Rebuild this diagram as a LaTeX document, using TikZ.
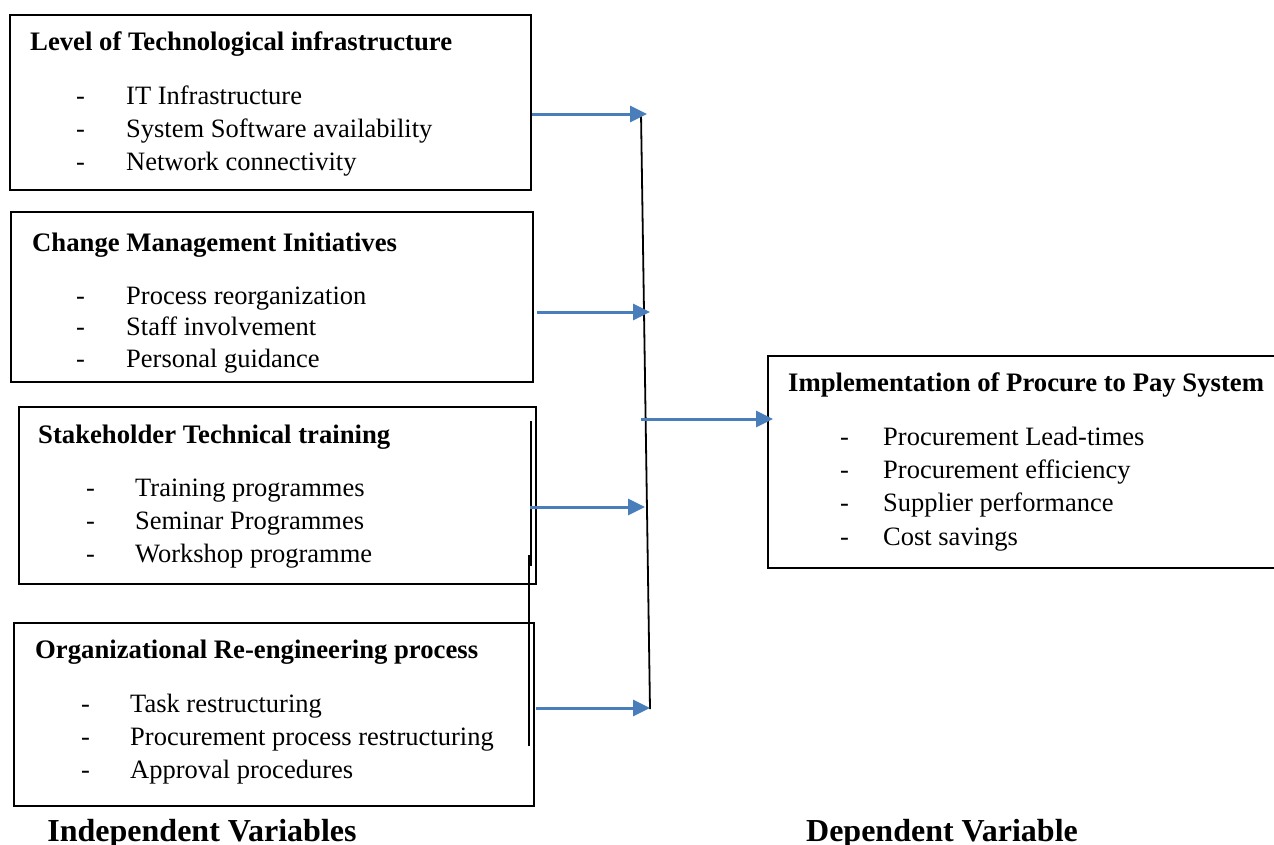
\documentclass[tikz,border=0pt]{standalone}
\usepackage{fontspec}
\setmainfont{Liberation Serif}
\usetikzlibrary{arrows.meta}
\definecolor{arrowblue}{RGB}{74,126,187}
\tikzset{
  box/.style={draw=black, line width=1.8pt, anchor=north west, inner sep=0pt},
  txt/.style={anchor=base west, inner sep=0pt, font=\fontsize{26.5}{33}\selectfont},
  ttl/.style={txt, font=\fontsize{26.7}{33}\selectfont\bfseries},
  lbl/.style={anchor=base, inner sep=0pt, font=\fontsize{32}{38}\selectfont\bfseries},
  arr/.style={draw=arrowblue, line width=3pt, -{Triangle[length=17pt,width=16pt]}},
  bar/.style={draw=black, line width=1.8pt}
}
\begin{document}
\begin{tikzpicture}[x=1pt,y=-1pt]
\useasboundingbox (0,0) rectangle (1274,844);
\fill[white] (0,0) rectangle (1274,844);

% boxes
\node[box, minimum width=521pt, minimum height=175pt] (b1) at (9,14) {};
\node[box, minimum width=522pt, minimum height=170pt] (b2) at (10,211) {};
\node[box, minimum width=517pt, minimum height=177pt] (b3) at (18,406) {};
\node[box, minimum width=520pt, minimum height=183pt] (b4) at (13,622) {};
\node[box, line width=1.5pt, minimum width=520pt, minimum height=212pt] (dv) at (767,355) {};

% box 1
\node[ttl] (t1) at (30,50) {Level of Technological infrastructure};
\node[txt] (d11) at (76,104) {-}; \node[txt] (i11) at (126,104) {IT Infrastructure};
\node[txt] (d12) at (76,137) {-}; \node[txt] (i12) at (126,137) {System Software availability};
\node[txt] (d13) at (76,170) {-}; \node[txt] (i13) at (126,170) {Network connectivity};

% box 2
\node[ttl] (t2) at (32,251) {Change Management Initiatives};
\node[txt] (d21) at (76,304) {-}; \node[txt] (i21) at (126,304) {Process reorganization};
\node[txt] (d22) at (76,335) {-}; \node[txt] (i22) at (126,335) {Staff involvement};
\node[txt] (d23) at (76,367) {-}; \node[txt] (i23) at (126,367) {Personal guidance};

% box 3
\node[ttl] (t3) at (38,443) {Stakeholder Technical training};
\node[txt] (d31) at (86,496) {-}; \node[txt] (i31) at (135,496) {Training programmes};
\node[txt] (d32) at (86,529) {-}; \node[txt] (i32) at (135,529) {Seminar Programmes};
\node[txt] (d33) at (86,562) {-}; \node[txt] (i33) at (135,562) {Workshop programme};

% box 4
\node[ttl] (t4) at (35,658) {Organizational Re-engineering process};
\node[txt] (d41) at (81,712) {-}; \node[txt] (i41) at (130,712) {Task restructuring};
\node[txt] (d42) at (81,745) {-}; \node[txt] (i42) at (130,745) {Procurement process restructuring};
\node[txt] (d43) at (81,778) {-}; \node[txt] (i43) at (130,778) {Approval procedures};

% dependent box
\node[ttl] (t5) at (788,391) {Implementation of Procure to Pay System};
\node[txt] (d51) at (840,445) {-}; \node[txt] (i51) at (883,445) {Procurement Lead-times};
\node[txt] (d52) at (840,478) {-}; \node[txt] (i52) at (883,478) {Procurement efficiency};
\node[txt] (d53) at (840,511) {-}; \node[txt] (i53) at (883,511) {Supplier performance};
\node[txt] (d54) at (840,545) {-}; \node[txt] (i54) at (883,545) {Cost savings};

% extra vertical lines near box 3 / 4
\coordinate (s1) at (531,421);
\coordinate (s2) at (531,566);
\coordinate (s3) at (529,555);
\coordinate (s4) at (529,746);
\draw[bar] (s1) -- (s2);
\draw[bar] (s3) -- (s4);

% collector line
\coordinate (vt) at (641,113);
\coordinate (vb) at (650,709);
\draw[bar, line width=1.8pt] (vt) -- (vb);

% arrows
\coordinate (e1) at (647,114);
\coordinate (e2) at (650,312);
\coordinate (e3) at (645,507);
\coordinate (e4) at (650,708);
\coordinate (s5) at (641,419);
\draw[arr] (b1.east |- e1) -- (e1);
\draw[arr] ([xshift=3pt]b2.east |- e2) -- (e2);
\draw[arr] ([xshift=-7pt]b3.east |- e3) -- (e3);
\draw[arr] ([xshift=1pt]b4.east |- e4) -- (e4);
\draw[arr] (s5) -- ([xshift=6pt]dv.west |- s5);

% labels
\node[lbl] (iv) at (202,841) {Independent Variables};
\node[lbl] (dvl) at (942,841) {Dependent Variable};
\end{tikzpicture}
\end{document}
